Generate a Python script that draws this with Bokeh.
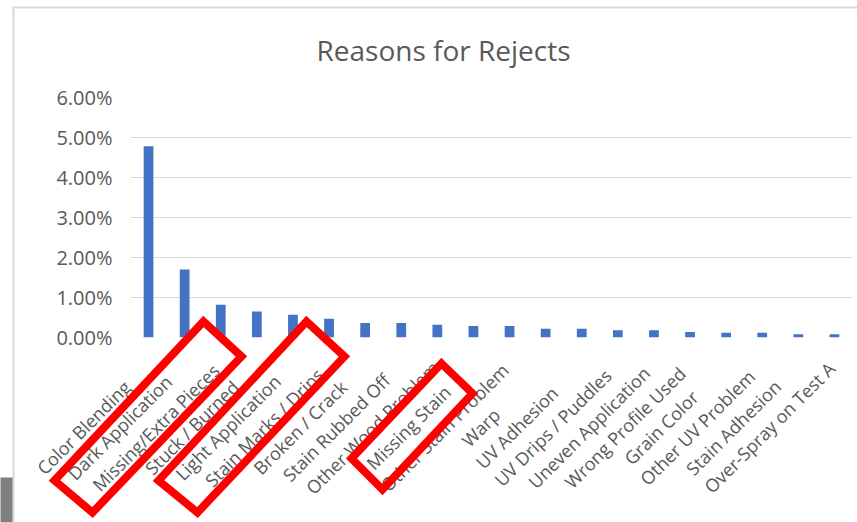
import math

from bokeh.core.properties import value
from bokeh.embed import file_html
from bokeh.models import ColumnDataSource, FixedTicker, NumeralTickFormatter, Range1d
from bokeh.plotting import figure
from bokeh.resources import INLINE

# --- data -------------------------------------------------------------------
reasons = [
    "Color Blending", "Dark Application", "Missing/Extra Pieces", "Stuck / Burned",
    "Light Application", "Stain Marks / Drips", "Broken / Crack", "Stain Rubbed Off",
    "Other Wood Problem", "Missing Stain", "Other Stain Problem", "Warp",
    "UV Adhesion", "UV Drips / Puddles", "Uneven Application", "Wrong Profile Used",
    "Grain Color", "Other UV Problem", "Stain Adhesion", "Over-Spray on Test A",
]
reject_rate = [
    0.0478, 0.0170, 0.0082, 0.0065, 0.0057, 0.0047, 0.0036, 0.0036, 0.0032, 0.0029,
    0.0029, 0.0022, 0.0022, 0.0018, 0.0018, 0.0014, 0.0012, 0.0012, 0.0008, 0.0008,
]
y_ticks = [0.00, 0.01, 0.02, 0.03, 0.04, 0.05, 0.06]

# --- styles -------------------------------------------------------------------
FONT = "Open Sans"
TEXT = "#595959"
GRID = "#d9d9d9"
BAR = "#4472C4"

W, H = 857, 522
LEFT, RIGHT, TOP, BOTTOM = 130, 5, 97, 185


def px_x(xs):
    """Canvas pixel x -> synthetic categorical coordinate of the x range."""
    return [(x - LEFT) * len(reasons) / (W - RIGHT - LEFT) for x in xs]


source = ColumnDataSource(dict(reason=reasons, rate=reject_rate,
                               base=[0.0] * len(reasons)))

p = figure(
    x_range=reasons, y_range=Range1d(0, 0.06),
    width=W, height=H,
    output_backend="svg", toolbar_location=None,
    min_border_left=LEFT, min_border_right=RIGHT,
    min_border_top=TOP, min_border_bottom=BOTTOM,
    title="Reasons for Rejects",
)
p.background_fill_color = "white"
p.border_fill_color = "white"
p.outline_line_color = None

# pixel range for y: one unit = one canvas pixel, growing downwards
p.extra_y_ranges = {"px": Range1d(H - BOTTOM, TOP)}

p.title.text_font = FONT
p.title.text_font_size = "28px"
p.title.text_font_style = "normal"
p.title.text_color = TEXT
p.title.align = "left"
p.title.offset = 186
p.title.standoff = 57

p.vbar(x="reason", top="rate", width=0.27, source=source,
       fill_color=BAR, line_color=None)

# y axis: percentages, no ticks or axis line
p.yaxis.ticker = FixedTicker(ticks=y_ticks)
p.yaxis.formatter = NumeralTickFormatter(format="0.00%")
p.yaxis.axis_line_color = None
p.yaxis.major_tick_line_color = None
p.yaxis.minor_tick_line_color = None
p.yaxis.major_label_text_font = FONT
p.yaxis.major_label_text_font_size = "20px"
p.yaxis.major_label_text_color = TEXT
p.yaxis.major_label_standoff = 12

# horizontal gridlines; the one at 0 doubles as the category baseline
p.ygrid.grid_line_color = GRID
p.ygrid.ticker = FixedTicker(ticks=y_ticks)
p.xgrid.grid_line_color = None
p.xaxis.visible = False

# category names, rotated and centred below each bar
p.text(x="reason", y="base", text="reason", source=source,
       x_offset=-65, y_offset=90, angle=math.pi / 4,
       text_align="center", text_baseline="middle",
       text_font=value(FONT), text_font_size="18px", text_color=TEXT,
       level="overlay")

# chart border (top and left edges) and grey strip at the bottom-left corner
p.quad(left=px_x([13, 12, 0]), right=px_x([W, 14, 12]),
       top=[6, 6, 477], bottom=[8, H, H],
       fill_color=[GRID, GRID, "#7f7f7f"], line_color=None,
       y_range_name="px", level="overlay")

# red highlight frames around groups of labels
highlight_xs = [[203, 241, 92, 54], [306, 344, 197, 158], [441, 472, 382, 351]]
highlight_ys = [[321, 356, 512, 480], [321, 356, 512, 480], [363, 393, 489, 458]]
for xs, ys in zip(highlight_xs, highlight_ys):
    p.patch(x=px_x(xs), y=ys, fill_alpha=0,
            line_color="#ff0000", line_width=8, line_join="miter",
            y_range_name="px", level="overlay")

open("out.html", "w").write(file_html(p, INLINE))
